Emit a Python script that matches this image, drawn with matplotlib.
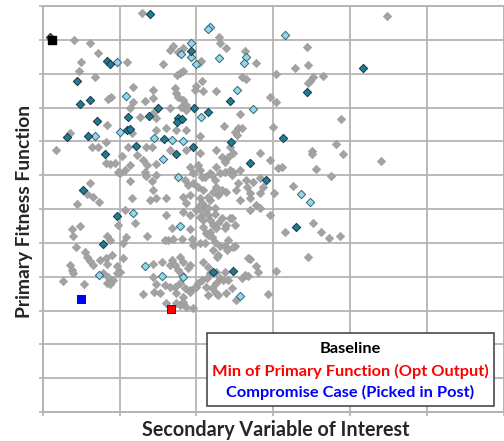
import matplotlib
matplotlib.use("Agg")
import matplotlib.pyplot as plt
from matplotlib.patches import Rectangle

# ---- data (arbitrary units: x grid every 1, y grid every 1) ----
gray_x = [1.29,0.41,0.62,0.72,1.09,1.56,0.50,0.47,0.68,1.17,1.44,0.89,0.85,1.17,1.33,1.43,1.14,1.45,1.27,0.84,
          1.16,1.47,0.36,0.82,1.11,1.35,1.42,0.64,0.72,0.17,1.66,
          2.29,2.31,2.39,1.69,1.83,1.76,2.06,2.03,2.63,2.77,3.44,3.28,3.45,3.04,1.82,1.79,1.75,2.07,2.59,
          2.65,1.72,1.73,2.00,1.98,2.08,2.25,1.76,1.83,1.86,2.96,3.04,1.66,1.80,1.87,2.56,1.48,2.36,2.54,2.59,
          2.50,2.53,3.00,1.61,1.74,1.87,2.05,2.44,
          4.48,3.51,3.48,3.45,3.64,3.88,3.81,3.50,
          0.82,0.88,0.94,1.03,1.23,1.30,1.36,1.14,1.07,0.98,1.01,1.33,1.35,1.42,1.44,1.14,1.16,1.39,1.48,1.61,
          0.62,0.58,0.66,0.73,0.44,1.07,0.98,1.20,1.60,0.48,0.38,0.40,0.83,0.88,1.08,1.05,1.36,1.63,
          0.43,0.55,0.58,0.62,0.65,0.75,0.82,0.90,0.84,1.05,0.96,1.01,0.36,0.38,0.39,0.79,0.85,0.83,0.88,0.92,
          0.96,0.26,0.54,1.43,1.55,1.43,1.48,1.45,1.53,1.59,1.30,
          1.48,1.48,1.66,1.87,2.05,2.26,2.33,2.41,2.48,2.83,2.96,3.06,3.11,3.50,3.55,
          1.92,1.96,2.05,2.11,2.18,2.26,2.31,2.37,2.44,2.48,2.57,2.65,2.74,2.83,2.87,
          1.96,2.02,2.09,2.26,2.33,2.39,2.52,2.70,2.83,3.01,1.83,3.26,
          2.05,2.07,2.11,2.18,2.24,2.70,2.78,2.83,2.96,
          1.83,1.92,2.00,2.05,2.09,2.15,2.22,2.44,2.39,2.26,2.18,1.68,1.92,2.09,2.13,3.15,3.52,
          1.70,1.81,1.94,1.96,2.05,2.20,2.24,2.31,2.37,2.50,2.28,2.41,3.45,
          1.66,1.79,1.83,1.92,2.09,2.15,2.18,2.26,2.31,2.37,2.70,2.78,2.80,3.04,2.67,
          1.66,1.74,1.83,1.92,2.00,2.13,2.26,2.26,2.39,2.52,2.93,1.74,1.83,1.87,1.61,
          3.90,3.75,4.40,3.62,3.73,3.87,
          2.02,2.07,2.20,2.24,2.28,2.21,2.15,2.05,2.09,2.15,2.18,2.24,2.28,2.33,2.37,2.46,2.50,1.89,1.92,1.86,
          1.85,2.37,2.46,2.54,2.66,2.57,2.70,1.59,2.11,2.21,2.27,2.40,2.48,2.15,1.68,1.72,1.76,1.89,1.81,1.72,
          1.79,1.85,1.92,1.98,2.02,2.07,2.14,2.20,2.28,2.15,2.35,2.41,2.46,2.59,2.63,1.95,1.79,2.67]
gray_y = [11.79,11.00,10.92,10.60,10.35,10.29,10.34,10.07,9.89,9.60,9.52,9.32,9.24,9.17,9.20,9.29,9.00,8.88,8.73,8.47,
          8.24,8.34,8.24,7.99,7.84,7.84,7.84,7.82,7.84,7.74,10.70,
          11.08,10.92,10.75,10.82,10.75,10.65,10.38,10.31,10.68,10.31,10.78,10.16,10.26,9.99,10.09,10.01,9.95,9.79,9.89,
          9.84,9.57,9.42,9.64,9.52,9.50,9.50,9.32,9.22,9.07,9.32,9.16,8.98,9.02,8.93,8.81,8.70,8.45,8.40,8.39,
          8.29,8.19,8.43,8.39,8.34,8.34,8.16,7.84,
          11.71,9.89,9.79,9.72,9.93,8.65,7.92,7.72,
          7.37,7.33,7.35,7.57,7.60,7.45,7.30,7.30,7.15,7.10,7.06,7.10,6.98,6.84,6.56,6.84,6.32,6.27,6.32,6.32,
          6.76,6.44,6.36,6.20,6.15,5.97,5.53,5.58,5.82,5.50,5.40,5.20,5.20,5.08,5.16,5.00,5.20,5.08,
          4.87,4.74,4.59,4.47,4.35,4.49,4.54,4.64,4.37,4.54,4.32,4.15,4.35,4.20,4.10,4.10,4.00,3.82,3.78,3.90,
          4.10,3.88,3.78,4.37,4.44,4.00,3.78,3.56,3.51,3.75,3.49,
          7.33,7.01,7.74,7.74,7.65,7.74,7.55,7.55,7.65,7.66,7.45,7.20,7.25,7.63,7.17,
          7.25,7.06,7.15,6.96,7.06,7.25,7.06,7.10,7.15,7.10,7.15,6.86,6.81,6.91,6.66,
          6.76,6.66,6.56,6.66,6.56,6.51,6.56,6.46,6.46,6.48,6.35,6.68,
          6.32,6.17,6.07,6.27,6.02,5.97,6.12,6.02,5.82,
          5.92,5.82,5.97,5.77,5.68,5.82,5.53,5.73,5.53,5.43,5.33,5.43,5.40,5.48,5.28,5.33,5.58,
          5.10,5.10,5.10,4.94,4.99,5.18,5.03,4.91,4.91,4.91,4.64,5.08,4.57,
          4.35,4.57,4.44,4.35,4.44,4.30,4.10,4.15,3.95,4.15,4.51,4.32,4.15,4.18,4.02,
          3.70,3.51,3.41,3.61,3.70,3.70,3.51,3.80,3.51,3.31,3.49,3.21,3.26,3.11,3.21,
          7.62,6.98,7.42,5.33,5.13,5.21,
          7.30,6.95,7.01,6.86,6.41,6.50,6.36,6.12,5.91,6.03,5.68,5.85,5.59,5.73,5.44,5.73,5.53,6.71,6.41,6.18,
          6.86,7.39,7.01,6.77,6.65,6.27,6.33,5.08,5.00,4.79,4.58,4.79,4.88,5.23,4.49,4.35,4.20,4.26,4.05,3.69,
          3.81,3.67,3.55,3.69,3.81,3.90,3.96,3.67,3.46,3.46,3.90,3.90,3.67,3.96,4.05,3.07,3.16,4.55]

teal_x = [0.09,1.40,0.83,0.88,0.44,0.62,0.49,1.50,1.11,1.38,0.70,1.09,1.13,0.31,0.59,1.58,1.21,1.93,3.44,2.43,
          1.97,2.15,1.76,1.81,1.75,3.13,2.45,1.95,4.16,0.81,0.53,0.96,0.79,1.74,2.70,2.90,3.29,2.21,2.48]
teal_y = [11.09,11.76,10.38,10.29,9.79,9.22,9.10,9.00,8.71,8.75,8.59,8.34,8.37,8.14,8.17,8.07,7.86,10.67,9.45,9.20,
          8.98,8.86,8.68,8.65,8.56,8.10,7.99,7.84,10.17,7.63,6.56,5.79,4.97,7.63,7.35,6.86,5.48,4.15,4.18]

light_x = [0.96,1.08,1.00,0.68,1.45,2.18,2.15,3.15,1.93,1.93,1.80,1.99,2.29,2.64,2.62,2.53,2.74,2.06,1.68,1.82,
           1.56,1.18,0.73,1.33,1.55,1.83,1.76,3.36,3.48,1.78,2.57]
light_y = [10.35,9.34,8.28,8.17,8.09,11.39,11.31,11.13,10.92,10.48,10.57,10.28,10.46,10.48,10.31,9.52,8.95,8.71,8.04,8.02,
           7.47,5.89,4.05,4.32,4.02,4.00,6.96,6.44,6.20,5.50,3.43]

baseline = (0.12, 11.00)
opt_min = (1.67, 3.05)
compromise = (0.50, 3.34)

legend_lines = ["Baseline", "Min of Primary Function (Opt Output)", "Compromise Case (Picked in Post)"]
legend_colors = ["black", "#ff0000", "#0000ff"]
x_label = "Secondary Variable of Interest"
y_label = "Primary Fitness Function"

# ---- figure ----
fig = plt.figure(figsize=(5.04, 4.41), dpi=100)
ax = fig.add_axes([42.7/504, 29/441, (504-42.7)/504, 406/441])

ax.set_xlim(0, 6)
ax.set_ylim(0, 12)
ax.set_xticks(range(0, 7))
ax.set_yticks(range(0, 13))
ax.set_xticklabels([])
ax.set_yticklabels([])
grid_c = "#b4b4b4"
ax.grid(True, color=grid_c, linewidth=1.3, zorder=0)
ax.set_axisbelow(True)
ax.tick_params(length=3, width=1.2, color=grid_c, direction="out")
for s in ax.spines.values():
    s.set_color(grid_c)
    s.set_linewidth(1.4)

ax.scatter(gray_x, gray_y, marker="D", s=19, c="#a3a3a3", edgecolors="#999999", linewidths=0.4, zorder=2)
ax.scatter(light_x, light_y, marker="D", s=18, c="#97d6ea", edgecolors="#2f6676", linewidths=0.7, zorder=3)
ax.scatter(teal_x, teal_y, marker="D", s=18, c="#217b93", edgecolors="#173845", linewidths=0.7, zorder=3)

ax.scatter([baseline[0]], [baseline[1]], marker="s", s=34, c="black", edgecolors="black", zorder=4)
ax.scatter([opt_min[0]], [opt_min[1]], marker="s", s=34, c="#ff0000", edgecolors="#5a1010", linewidths=0.7, zorder=4)
ax.scatter([compromise[0]], [compromise[1]], marker="s", s=34, c="#0000ff", edgecolors="#10105a", linewidths=0.7, zorder=4)

lab_c = "#262626"
ax.text(0.505, -0.0443, x_label, fontsize=14.2, fontweight="bold", family="Lato", color=lab_c,
        ha="center", va="center", transform=ax.transAxes)
ax.text(-0.0384, 0.495, y_label, fontsize=13.9, fontweight="bold", family="Lato", color=lab_c,
        ha="center", va="center", rotation=90, transform=ax.transAxes)

# legend-like box
box = Rectangle((0.3555, 0.0148), 0.9790 - 0.3555, 0.1938 - 0.0148, transform=ax.transAxes,
                facecolor="white", edgecolor="#3a3a3a", linewidth=1.1, zorder=5)
ax.add_patch(box)
for txt, col, yy in zip(legend_lines, legend_colors, [0.1552, 0.1010, 0.0493]):
    ax.text(0.666, yy, txt, color=col, fontsize=11.8, fontweight="bold", family="Lato",
            ha="center", va="center", transform=ax.transAxes, zorder=6)

fig.savefig("out.png", dpi=100, facecolor="white")
